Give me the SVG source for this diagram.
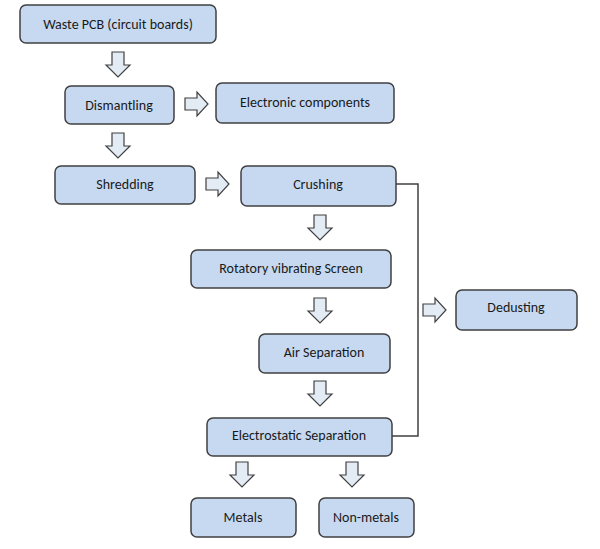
<svg xmlns="http://www.w3.org/2000/svg" width="600" height="549" viewBox="0 0 600 549">
<style>
.b{fill:#c6d9f1;stroke:#404040;stroke-width:1.5}
.t{font-family:Calibri,Carlito,"Liberation Sans",sans-serif;font-size:14px;fill:#1a1a1a;text-anchor:middle}
.a{fill:#e3ebf5;stroke:#404040;stroke-width:1.2}
.l{fill:none;stroke:#404040;stroke-width:1.5}
</style>
<defs>
<path id="dn" d="M-6,0 H6 V13 H12 L0,25 L-12,13 H-6 Z"/>
<path id="rt" d="M0,-6 V6 H12 V12 L23,0 L12,-12 V-6 Z"/>
</defs>
<rect width="600" height="549" fill="#fff"/>
<g id="connectors">
<polyline class="l" points="396,184 418,184 418,436 392,436"/>
<use href="#dn" class="a" x="118" y="52"/>
<use href="#rt" class="a" x="185" y="104"/>
<use href="#dn" class="a" x="118" y="133"/>
<use href="#rt" class="a" x="206" y="184"/>
<use href="#dn" class="a" x="320" y="215"/>
<use href="#dn" class="a" x="320" y="298"/>
<use href="#dn" class="a" x="320" y="381"/>
<use href="#rt" class="a" x="423" y="310"/>
<use href="#dn" class="a" x="242" y="462"/>
<use href="#dn" class="a" x="352" y="462"/>
</g>
<g id="waste"><rect class="b" x="20" y="5" width="196" height="38" rx="6"/><text class="t" x="118" y="29">Waste PCB (circuit boards)</text></g>
<g id="dismantling"><rect class="b" x="65" y="86" width="109" height="38" rx="6"/><text class="t" x="119" y="110">Dismantling</text></g>
<g id="electronic"><rect class="b" x="216" y="83" width="178" height="40" rx="6"/><text class="t" x="305" y="107">Electronic components</text></g>
<g id="shredding"><rect class="b" x="55" y="166" width="140" height="38" rx="6"/><text class="t" x="125" y="189">Shredding</text></g>
<g id="crushing"><rect class="b" x="241" y="166" width="155" height="40" rx="6"/><text class="t" x="318" y="189">Crushing</text></g>
<g id="rotatory"><rect class="b" x="191" y="250" width="200" height="38" rx="6"/><text class="t" x="291" y="273">Rotatory vibrating Screen</text></g>
<g id="air"><rect class="b" x="259" y="334" width="131" height="39" rx="6"/><text class="t" x="324" y="357">Air Separation</text></g>
<g id="electrostatic"><rect class="b" x="207" y="418" width="185" height="38" rx="6"/><text class="t" x="299" y="440">Electrostatic Separation</text></g>
<g id="dedusting"><rect class="b" x="456" y="290" width="121" height="40" rx="6"/><text class="t" x="516" y="312">Dedusting</text></g>
<g id="metals"><rect class="b" x="191" y="498" width="105" height="39" rx="6"/><text class="t" x="243" y="522">Metals</text></g>
<g id="nonmetals"><rect class="b" x="319" y="498" width="95" height="39" rx="6"/><text class="t" x="366" y="522">Non-metals</text></g>
</svg>
